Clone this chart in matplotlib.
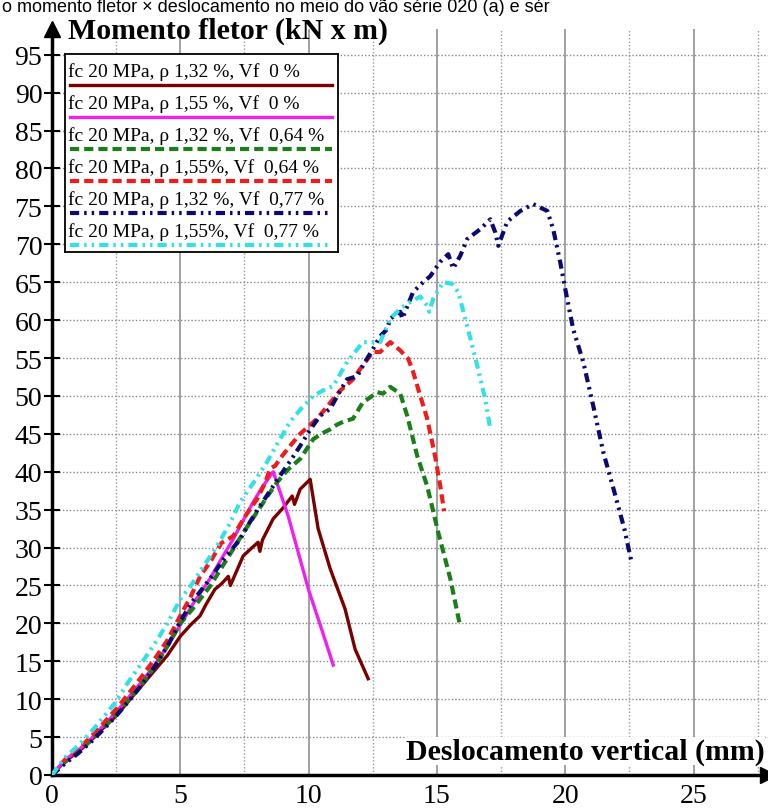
import matplotlib
matplotlib.use('Agg')
import matplotlib.pyplot as plt
import numpy as np

plt.rcParams['font.family'] = ['Liberation Serif', 'DejaVu Serif']

# === DATA ===
labels = ['fc 20 MPa, ρ 1,32 %, Vf  0 %',
          'fc 20 MPa, ρ 1,55 %, Vf  0 %',
          'fc 20 MPa, ρ 1,32 %, Vf  0,64 %',
          'fc 20 MPa, ρ 1,55%, Vf  0,64 %',
          'fc 20 MPa, ρ 1,32 %, Vf  0,77 %',
          'fc 20 MPa, ρ 1,55%, Vf  0,77 %']

x_132_0 = [0, 0.5, 1, 1.5, 2, 2.5, 3, 3.5, 4, 4.5, 5, 5.4, 5.77, 6.0, 6.35, 6.6, 6.87, 6.95,
           7.45, 7.8, 8.03, 8.1, 8.2, 8.62, 8.97, 9.36, 9.45, 9.67, 10.06, 10.37, 10.84,
           11.42, 11.81, 12.32]
y_132_0 = [0, 1.8, 3.0, 4.5, 6.2, 7.8, 9.8, 11.8, 13.8, 15.8, 18.3, 19.8, 21.0, 22.5, 24.5,
           25.2, 26.2, 25.0, 28.9, 30.0, 30.7, 29.5, 31.0, 33.8, 35.1, 36.8, 35.7, 37.7, 39.0,
           32.5, 27.2, 21.9, 16.6, 12.7]

x_155_0 = [0, 0.5, 1, 1.5, 2, 2.5, 3, 3.5, 4, 4.5, 5, 5.5, 6.16, 6.6, 7.06, 7.45, 7.84, 8.2,
           8.62, 8.9, 9.2, 9.6, 10.0, 10.5, 10.96]
y_155_0 = [0, 2, 3.2, 4.7, 6.5, 8.3, 10.3, 12.3, 14.5, 17, 19.8, 22.6, 25.9, 28.5, 31.1, 33.6,
           36, 38, 40, 37.2, 34.2, 29.3, 24.4, 19.3, 14.5]

x_132_064 = [0, 0.5, 1, 1.5, 2, 2.5, 3, 3.5, 4, 4.5, 5, 5.5, 6.16, 6.6, 7.06, 7.5, 7.99, 8.4,
             8.77, 9.2, 9.67, 10.18, 10.5, 10.84, 11.1, 11.35, 11.73, 12.12, 12.4, 12.67,
             12.9, 13.18, 13.57, 13.84, 14.23, 14.62, 15.05, 15.52, 15.9]
y_132_064 = [0, 1.7, 3, 4.5, 6.2, 8, 10, 12, 14.3, 17, 20, 22, 24.9, 27.3, 29.8, 32.2, 34.7,
             36.8, 38.6, 40.3, 41.7, 44.3, 45, 45.6, 46.2, 46.6, 47, 49.2, 49.8, 50.5, 50.3,
             51.2, 50.3, 47.4, 42.1, 38.1, 32, 25.9, 19.7]

x_155_064 = [0, 0.5, 1, 1.5, 2, 2.5, 3, 3.5, 4, 4.5, 5, 5.4, 5.77, 6.2, 6.6, 7.06, 7.5, 7.99,
             8.3, 8.5, 8.7, 8.97, 9.3, 9.67, 10.0, 10.33, 10.7, 10.96, 11.23, 11.5, 11.73,
             12.1, 12.51, 12.79, 13.18, 13.4, 13.57, 13.88, 14.07, 14.35, 14.62, 14.93,
             15.13, 15.28]
y_155_064 = [0, 2, 3.3, 5, 6.8, 8.7, 10.8, 13, 15.3, 17.8, 21, 23.5, 26.2, 28.3, 30.6, 31.5,
             34, 36.4, 38.5, 40.4, 40.8, 42.1, 43.5, 45, 46, 47, 48.5, 49.6, 50.7, 51.5,
             52.2, 54, 55.8, 55.8, 57.1, 56.5, 56, 54.9, 53.2, 50, 47, 42, 38.1, 34.8]

x_132_077 = [0, 0.5, 1, 1.5, 2, 2.5, 3, 3.5, 4, 4.5, 5, 5.5, 6.16, 6.7, 7.33, 7.7, 8.11, 8.5,
             8.89, 9.3, 9.67, 10.05, 10.45, 10.84, 11.2, 11.5, 11.89, 12.2, 12.51, 12.79,
             13.06, 13.18, 13.57, 13.65, 14.07, 14.4, 14.74, 15.13, 15.44, 15.63, 15.91,
             16.18, 16.69, 17.08, 17.27, 17.39, 17.74, 18.25, 18.75, 19.3, 19.53, 19.8,
             20.0, 20.31, 20.7, 21.09, 21.48, 21.9, 22.3, 22.6]
y_132_077 = [0, 1.5, 2.8, 4.3, 6, 7.8, 9.8, 11.9, 14.3, 17, 20.3, 23, 25.9, 28.5, 31.1, 33.3,
             35.5, 37.5, 39.5, 41.5, 43.4, 45.5, 47.4, 48.3, 50.5, 52.2, 52.6, 54.5, 56.2,
             57.9, 58.8, 60.2, 61.1, 60.2, 63.7, 64.8, 65.8, 67.7, 68.7, 66.8, 68.5, 70.7,
             72, 73.3, 71.6, 69.8, 73, 74.4, 75.3, 74.4, 72, 67.7, 64.1, 58.8, 54.5, 48.7,
             42.6, 37.5, 32.5, 27.8]

x_155_077 = [0, 0.5, 1, 1.5, 2, 2.5, 3, 3.5, 4, 4.5, 5, 5.38, 5.9, 6.43, 6.9, 7.33, 7.9, 8.38,
             8.8, 9.28, 9.7, 10.18, 10.6, 10.96, 11.5, 12.12, 12.79, 13.18, 13.57, 13.96,
             14.35, 14.62, 14.7, 14.85, 15.24, 15.59, 15.83, 16.18, 16.57, 16.88, 17.08]
y_155_077 = [0, 2.3, 3.8, 5.6, 7.6, 9.7, 12.4, 14.8, 17.3, 20, 23.2, 24.8, 27.5, 30.2, 33, 36,
             38.8, 41.3, 43.8, 46.6, 48.3, 50, 50.8, 51.3, 54.5, 57.1, 57.1, 60.2, 61.5,
             62.4, 63.1, 61.9, 61.1, 62.8, 65, 64.8, 63.7, 59.2, 54, 49.6, 45.6]

x_ticks = [0, 5, 10, 15, 20, 25]
y_ticks = list(range(0, 100, 5))

series = [(x_132_0, y_132_0), (x_155_0, y_155_0), (x_132_064, y_132_064),
          (x_155_064, y_155_064), (x_132_077, y_132_077), (x_155_077, y_155_077)]

styles = [
    dict(color='#7a0000', lw=2.4, ls='-'),
    dict(color='#f020f0', lw=2.4, ls='-'),
    dict(color='#1a7f1a', lw=3.0, ls=(0, (2.2, 1.2))),
    dict(color='#ee1c1c', lw=3.0, ls=(0, (2.2, 1.2))),
    dict(color='#0a0a70', lw=3.0, ls=(0, (2.2, 1.2, 0.6, 1.2, 0.6, 1.2))),
    dict(color='#33e0e8', lw=3.0, ls=(0, (2.2, 1.2, 0.6, 1.2, 0.6, 1.2))),
]

# === FIGURE ===
fig = plt.figure(figsize=(7.68, 8.12), dpi=100)
ax = fig.add_axes([52 / 768, 36 / 812, 716 / 768, 746 / 812])
ax.set_xlim(0, 27.9)
ax.set_ylim(0, 98.4)

# grid
for g in np.arange(2.5, 27.9, 2.5):
    if g % 5 == 0:
        ax.axvline(g, color='#9a9a9a', lw=1.3, zorder=0)
    else:
        ax.axvline(g, color='#9a9a9a', lw=1.0, ls=(0, (1, 1.5)), zorder=0)
for g in y_ticks[1:]:
    ax.axhline(g, color='#8a8a8a', lw=1.0, ls=(0, (1, 1.5)), zorder=0)

for (xs, ys), st in zip(series, styles):
    ax.plot(xs, ys, zorder=3, **st)

ax.spines['top'].set_visible(False)
ax.spines['right'].set_visible(False)
ax.spines['left'].set_linewidth(2.5)
ax.spines['bottom'].set_linewidth(2.5)
ax.set_xticks(x_ticks)
ax.set_yticks(y_ticks)
ax.tick_params(axis='y', direction='inout', length=12, width=1.5, labelsize=20, pad=1)
ax.tick_params(axis='x', length=0, labelsize=20, pad=6)

# arrows at the axis ends
ax.plot([0], [1], marker='^', color='black', ms=12, transform=ax.transAxes, clip_on=False, zorder=5)
ax.plot([1], [0], marker='>', color='black', ms=12, transform=ax.transAxes, clip_on=False, zorder=5)

ax.text(0.022, 0.998, 'Momento fletor (kN x m)', transform=ax.transAxes, fontsize=21.5,
        fontweight='bold', va='center', ha='left')
ax.text(0.995, 0.032, 'Deslocamento vertical (mm)', transform=ax.transAxes, fontsize=21.5,
        fontweight='bold', va='center', ha='right',
        bbox=dict(facecolor='white', edgecolor='none', pad=0.5))

# legend box drawn by hand (text above each line sample)
lax = fig.add_axes([65 / 768, 1 - 253 / 812, 273 / 768, 198 / 812])
lax.set_xlim(65, 338)
lax.set_ylim(253, 55)
lax.set_xticks([])
lax.set_yticks([])
for sp in lax.spines.values():
    sp.set_linewidth(1.3)
for i, (lab, st) in enumerate(zip(labels, styles)):
    ty = 72 + i * 32
    lax.text(68, ty, lab, fontsize=14, va='center', ha='left')
    lax.plot([70, 332], [ty + 14, ty + 14], **st)

# caption strip at the top of the picture
fig.text(0.002, 0.985, 'o momento fletor × deslocamento no meio do vão série 020 (a) e sér',
         fontsize=13, family='Liberation Sans', ha='left', va='baseline')

fig.savefig('out.png', dpi=100)
